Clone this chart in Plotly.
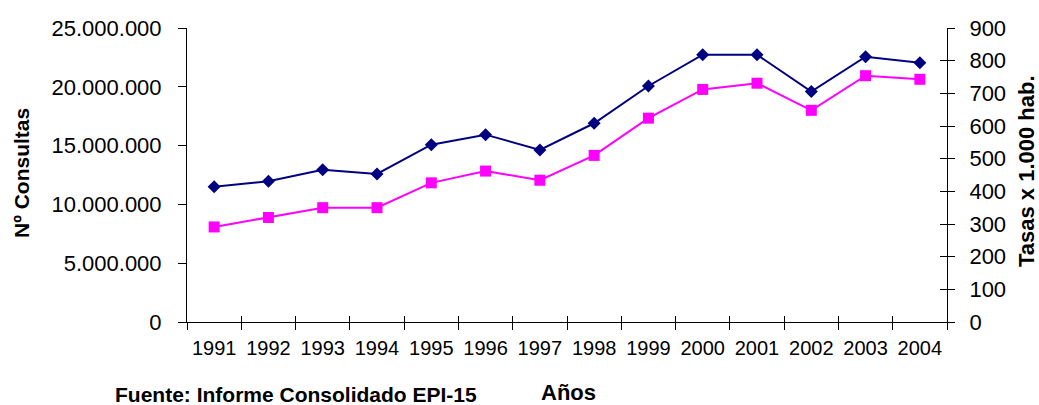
import plotly.graph_objects as go

years = ['1991', '1992', '1993', '1994', '1995', '1996', '1997',
         '1998', '1999', '2000', '2001', '2002', '2003', '2004']
consultas = [11500000, 11960000, 12950000, 12590000, 15080000, 15930000, 14630000,
             16900000, 20070000, 22730000, 22730000, 19590000, 22560000, 22050000]
tasas = [291, 320, 350, 350, 426, 462, 434, 510, 624, 712, 731, 648, 754, 743]

left_ticks = [0, 5000000, 10000000, 15000000, 20000000, 25000000]
right_ticks = [0, 100, 200, 300, 400, 500, 600, 700, 800, 900]

FONT = "Arial, Liberation Sans, sans-serif"
W, H = 1039, 405
ML, MR, MT, MB = 187, 92, 28, 83
PW = W - ML - MR
PH = H - MT - MB


def px_x(px):
    return (px - ML) / PW


def px_y(py):
    return (H - MB - py) / PH


fig = go.Figure()

fig.add_trace(go.Scatter(
    x=years, y=consultas, name='Nº Consultas', mode='lines+markers',
    line=dict(color='#000080', width=2),
    marker=dict(symbol='diamond', size=10, color='#000080'),
    yaxis='y', xaxis='x'))

fig.add_trace(go.Scatter(
    x=years, y=tasas, name='Tasas x 1.000 hab.', mode='lines+markers',
    line=dict(color='#FF00FF', width=2),
    marker=dict(symbol='square', size=11, color='#FF00FF'),
    yaxis='y2', xaxis='x'))

# invisible helper traces so the overlay axes (crossing tick marks) are drawn
fig.add_trace(go.Scatter(x=years, y=[None] * len(years), xaxis='x2', yaxis='y',
                         showlegend=False, hoverinfo='skip'))
fig.add_trace(go.Scatter(x=years, y=[None] * len(years), xaxis='x', yaxis='y3',
                         showlegend=False, hoverinfo='skip'))

fig.update_layout(
    width=W, height=H,
    margin=dict(l=ML, r=MR, t=MT, b=MB, pad=0),
    paper_bgcolor='white', plot_bgcolor='white',
    showlegend=False,
    separators=',.',
    font=dict(family=FONT, color='black'),
    xaxis=dict(
        type='category', categoryorder='array', categoryarray=years,
        range=[-0.5, len(years) - 0.5],
        showline=True, linecolor='black', linewidth=1,
        ticks='outside', ticklen=7, tickcolor='black', tickwidth=1,
        tickson='boundaries', showgrid=False, zeroline=False,
        tickfont=dict(size=20, family=FONT, color='black'),
        ticklabelstandoff=8,
    ),
    xaxis2=dict(
        type='category', categoryorder='array', categoryarray=years,
        range=[-0.5, len(years) - 0.5], overlaying='x', anchor='y', side='bottom',
        showline=False, ticks='inside', ticklen=6, tickcolor='black', tickwidth=1,
        tickson='boundaries', showgrid=False, zeroline=False, showticklabels=False,
    ),
    yaxis=dict(
        range=[0, 25000000], tickvals=left_ticks, tickformat=',d',
        showline=True, linecolor='black', linewidth=1,
        ticks='outside', ticklen=8, tickcolor='black', tickwidth=1,
        showgrid=False, zeroline=False,
        tickfont=dict(size=22, family=FONT, color='black'),
        ticklabelstandoff=12,
    ),
    yaxis2=dict(
        range=[0, 900], tickvals=right_ticks, overlaying='y', side='right', anchor='x',
        showline=True, linecolor='black', linewidth=1,
        ticks='outside', ticklen=7, tickcolor='black', tickwidth=1,
        showgrid=False, zeroline=False,
        tickfont=dict(size=22, family=FONT, color='black'),
        ticklabelstandoff=10,
    ),
    yaxis3=dict(
        range=[0, 900], tickvals=right_ticks, overlaying='y', side='right', anchor='x',
        showline=False, ticks='inside', ticklen=7, tickcolor='black', tickwidth=1,
        showgrid=False, zeroline=False, showticklabels=False,
    ),
)

annotations = [
    dict(text='<b>Nº Consultas</b>', textangle=-90, x=px_x(21), y=px_y(173),
         font=dict(size=21, family=FONT, color='black')),
    dict(text='<b>Tasas x 1.000 hab.</b>', textangle=-90, x=px_x(1026), y=px_y(171),
         font=dict(size=22, family=FONT, color='black')),
    dict(text='<b>Años</b>', x=px_x(568), y=px_y(392),
         font=dict(size=22, family=FONT, color='black')),
    dict(text='<b>Fuente: Informe Consolidado EPI-15</b>', x=px_x(113), y=px_y(394),
         xanchor='left', font=dict(size=21, family=FONT, color='black')),
]
for a in annotations:
    a.setdefault('xanchor', 'center')
    a.update(xref='paper', yref='paper', yanchor='middle', showarrow=False)
fig.update_layout(annotations=annotations)

fig.write_html("out.html",
               config={'displayModeBar': False},
               post_script="document.body.style.margin='0';document.body.style.overflow='hidden';")
